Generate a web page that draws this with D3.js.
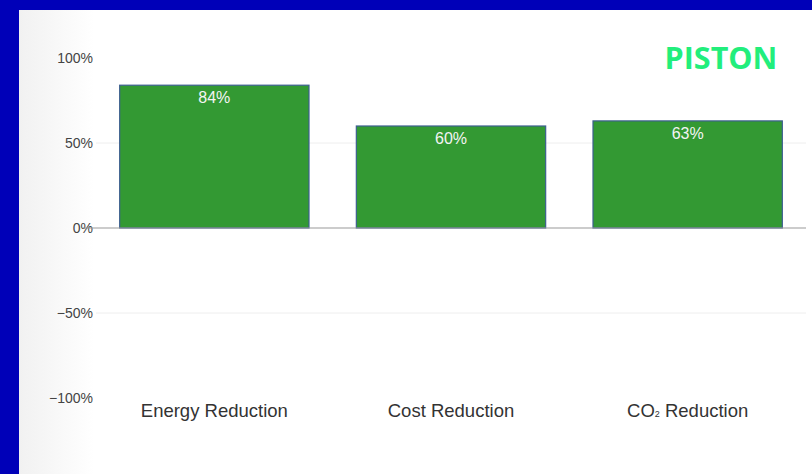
<!DOCTYPE html>
<html><head><meta charset="utf-8">
<script src="https://cdn.jsdelivr.net/npm/d3@7"></script>
<style>html,body{margin:0;padding:0;background:#0000b8;overflow:hidden}</style>
</head><body>
<svg id="c" width="812" height="474"></svg>
<script>
const categories = ["Energy Reduction", "Cost Reduction", "CO2 Reduction"];
const values = [84, 60, 63];
const yTicks = [-100, -50, 0, 50, 100];
const title = "PISTON";

const svg = d3.select("#c");
const defs = svg.append("defs");
const g0 = defs.append("linearGradient").attr("id","lg").attr("x1","0").attr("x2","1").attr("y1","0").attr("y2","0");
g0.append("stop").attr("offset","0").attr("stop-color","#f1f1f1");
g0.append("stop").attr("offset","1").attr("stop-color","#ffffff");

svg.append("rect").attr("x",0).attr("y",0).attr("width",812).attr("height",474).attr("fill","#0000b8");
svg.append("rect").attr("x",19).attr("y",10).attr("width",793).attr("height",464).attr("fill","#ffffff");
svg.append("rect").attr("x",19).attr("y",10).attr("width",75).attr("height",464).attr("fill","url(#lg)");

const x = d3.scaleBand().domain(categories).range([96, 806]).paddingInner(0.2).paddingOuter(0.1);
const y = d3.scaleLinear().domain([-100, 100]).range([398, 58]);

// gridlines
svg.append("g").selectAll("line").data(yTicks.filter(d => d !== 0 && Math.abs(d) !== 100)).join("line")
  .attr("x1", 96).attr("x2", 806).attr("y1", d => y(d)).attr("y2", d => y(d))
  .attr("stroke", "#eeeeee").attr("stroke-width", 1);

// y axis labels
const yAxis = d3.axisLeft(y).tickValues(yTicks).tickSize(0).tickPadding(0)
  .tickFormat(d => (d < 0 ? "\u2212" + Math.abs(d) : d) + "%");
const ya = svg.append("g").attr("transform", "translate(93,0)").call(yAxis);
ya.select(".domain").remove();
ya.selectAll("text").attr("font-family", "Liberation Sans, Arial, sans-serif").attr("font-size", 14).attr("fill", "#444");

// bars
svg.append("g").selectAll("rect").data(values).join("rect")
  .attr("x", (d, i) => x(categories[i]))
  .attr("width", x.bandwidth())
  .attr("y", d => y(d))
  .attr("height", d => y(0) - y(d))
  .attr("fill", "#339933").attr("stroke", "#3d5f8f").attr("stroke-width", 1.2);

// zero line
svg.append("line").attr("x1", 83).attr("x2", 806).attr("y1", y(0)).attr("y2", y(0))
  .attr("stroke", "#999").attr("stroke-width", 1.2);

// value labels
svg.append("g").selectAll("text").data(values).join("text")
  .attr("x", (d, i) => x(categories[i]) + x.bandwidth() / 2)
  .attr("y", d => y(d) + 18)
  .attr("text-anchor", "middle")
  .attr("font-family", "Liberation Sans, Arial, sans-serif").attr("font-size", 16)
  .attr("fill", "#f4f4f4")
  .text(d => d + "%");

// category labels
const xl = svg.append("g").selectAll("text").data(categories).join("text")
  .attr("x", d => x(d) + x.bandwidth() / 2)
  .attr("y", 417)
  .attr("text-anchor", "middle")
  .attr("font-family", "Liberation Sans, Arial, sans-serif").attr("font-size", 18.5)
  .attr("fill", "#333");
xl.each(function(d) {
  const t = d3.select(this);
  if (d.startsWith("CO2")) {
    t.append("tspan").text("CO");
    t.append("tspan").attr("font-size", 9).text("2");
    t.append("tspan").text(d.slice(3));
  } else t.text(d);
});

// title
svg.append("text").attr("x", 721).attr("y", 69).attr("text-anchor", "middle")
  .attr("font-family", "Open Sans, sans-serif").attr("font-weight", "bold").attr("font-size", 30.5)
  .attr("fill", "#22ee7c").text(title);
</script>
</body></html>
